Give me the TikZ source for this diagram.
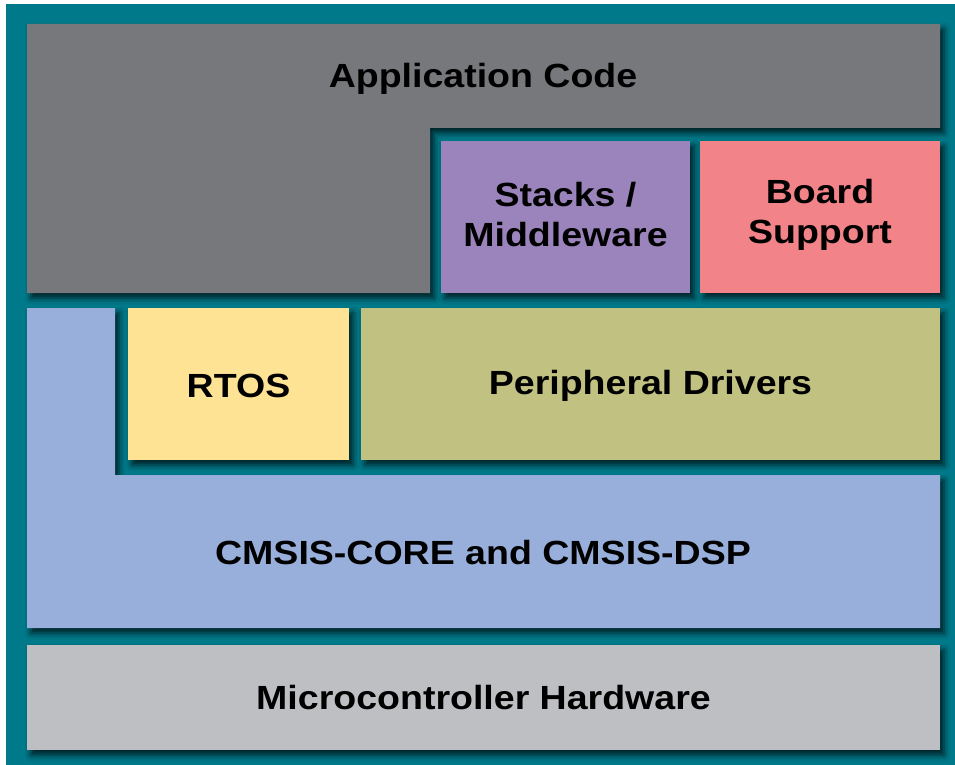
\documentclass[tikz,border=0pt]{standalone}
\usepackage{fontspec}
\setmainfont[FakeStretch=1.12]{Liberation Sans}
\usetikzlibrary{shadows.blur}
\definecolor{tealbg}{HTML}{007A8A}
\definecolor{appgray}{HTML}{77787B}
\definecolor{stackpurple}{HTML}{9A84BB}
\definecolor{boardpink}{HTML}{F28388}
\definecolor{rtosyellow}{HTML}{FFE394}
\definecolor{drvolive}{HTML}{C1C182}
\definecolor{cmsisblue}{HTML}{97AFDA}
\definecolor{hwgray}{HTML}{BEBFC3}
\tikzset{
  layer/.style={blur shadow={shadow xshift=4pt, shadow yshift=-5pt, shadow blur radius=6pt, shadow opacity=75}},
  lbl/.style={font=\fontsize{33.5}{40}\selectfont\bfseries, align=center, text=black},
}
\begin{document}
\begin{tikzpicture}[x=1pt,y=-1pt]
\useasboundingbox (0,0) rectangle (955,765);
\fill[tealbg] (6,4) rectangle (955,765);
% Application code (L shape)
\fill[appgray,layer] (27,24) -- (940,24) -- (940,128) -- (430,128) -- (430,293) -- (27,293) -- cycle;
\node[lbl] (app) at (483,79) {Application Code};
% Stacks
\fill[stackpurple,layer] (441,141) rectangle (690,293);
\node[lbl] (stacks) at (565.5,215) {Stacks /\\Middleware};
% Board support
\fill[boardpink,layer] (700,141) rectangle (940,293);
\node[lbl] (board) at (820,215) {Board\\Support};
% CMSIS (L shape)
\fill[cmsisblue,layer] (27,308) -- (115,308) -- (115,475) -- (940,475) -- (940,628) -- (27,628) -- cycle;
\node[lbl] (cmsis) at (483,553) {CMSIS-CORE and CMSIS-DSP};
% RTOS
\fill[rtosyellow,layer] (128,308) rectangle (349,460);
\node[lbl] (rtos) at (238.5,386) {RTOS};
% Peripheral drivers
\fill[drvolive,layer] (361,308) rectangle (940,460);
\node[lbl] (drv) at (650.5,386) {Peripheral Drivers};
% Hardware
\fill[hwgray,layer] (27,645) rectangle (940,750);
\node[lbl] (hw) at (483.5,698) {Microcontroller Hardware};
\end{tikzpicture}
\end{document}
